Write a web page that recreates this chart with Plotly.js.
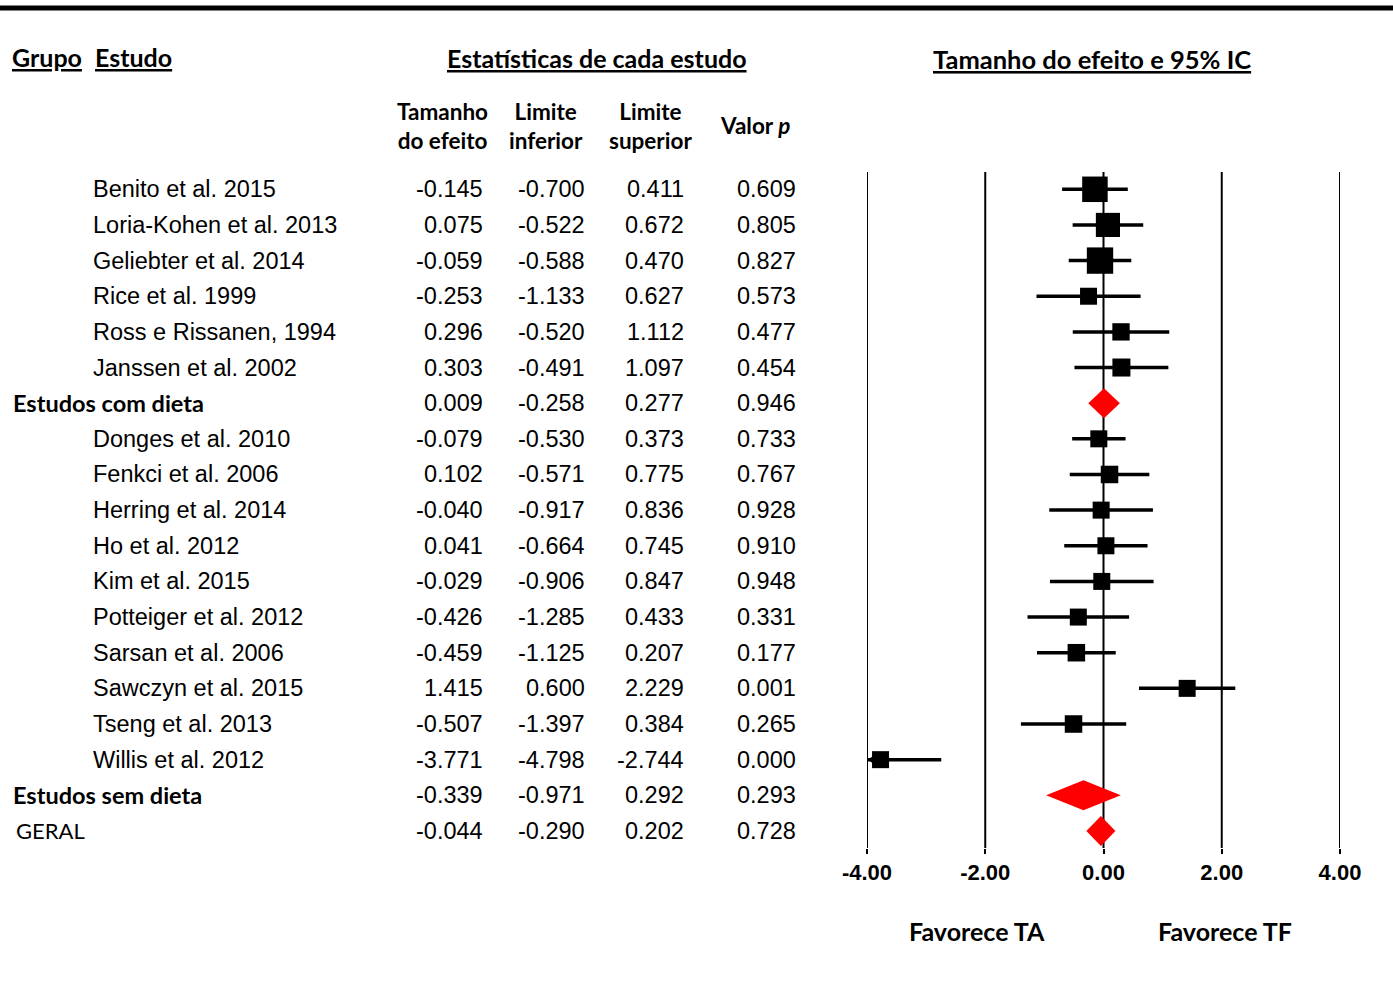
<!DOCTYPE html>
<html><head><meta charset="utf-8">
<script src="https://cdn.plot.ly/plotly-3.0.1.min.js"></script>
<style>html,body{margin:0;padding:0;background:#fff}</style>
</head><body>
<div id="chart" style="width:1393px;height:993px"></div>
<script>
// ---------------- DATA ----------------
const rowLabels = [
  "Benito et al. 2015", "Loria-Kohen et al. 2013", "Geliebter et al. 2014", "Rice et al. 1999",
  "Ross e Rissanen, 1994", "Janssen et al. 2002", "Estudos com dieta",
  "Donges et al. 2010", "Fenkci et al. 2006", "Herring et al. 2014", "Ho et al. 2012",
  "Kim et al. 2015", "Potteiger et al. 2012", "Sarsan et al. 2006", "Sawczyn et al. 2015",
  "Tseng et al. 2013", "Willis et al. 2012", "Estudos sem dieta", "GERAL"
];
const rowType = [
  "study","study","study","study","study","study","subtotal",
  "study","study","study","study","study","study","study","study","study","study",
  "subtotal","overall"
];
const effectSize = [-0.145, 0.075, -0.059, -0.253, 0.296, 0.303, 0.009,
  -0.079, 0.102, -0.040, 0.041, -0.029, -0.426, -0.459, 1.415, -0.507, -3.771, -0.339, -0.044];
const lowerLimit = [-0.700, -0.522, -0.588, -1.133, -0.520, -0.491, -0.258,
  -0.530, -0.571, -0.917, -0.664, -0.906, -1.285, -1.125, 0.600, -1.397, -4.798, -0.971, -0.290];
const upperLimit = [0.411, 0.672, 0.470, 0.627, 1.112, 1.097, 0.277,
  0.373, 0.775, 0.836, 0.745, 0.847, 0.433, 0.207, 2.229, 0.384, -2.744, 0.292, 0.202];
const pValue = [0.609, 0.805, 0.827, 0.573, 0.477, 0.454, 0.946,
  0.733, 0.767, 0.928, 0.910, 0.948, 0.331, 0.177, 0.001, 0.265, 0.000, 0.293, 0.728];
// relative study weight (box size)
const relWeight = [1.5, 1.42, 1.55, 1.0, 1.02, 1.06, null,
  1.0, 1.03, 1.0, 1.0, 1.0, 1.0, 1.03, 1.0, 1.03, 1.0, null, null];
const tickValues = [-4, -2, 0, 2, 4];
const columnHeaders = ["Tamanho<br>do efeito", "Limite<br>inferior", "Limite<br>superior", "Valor <i>p</i>"];

// ---------------- LAYOUT HELPERS ----------------
const W = 1393, H = 993;
const plotL = 867, plotR = 1340, plotT = 171.7, plotB = 848.3;
const px = v => (v - plotL) / (plotR - plotL);
const py = v => (plotB - v) / (plotB - plotT);
const xMin = -4, xMax = 4;
const rowY = i => -i;

const bodyFont = {family: "Liberation Sans, Arial, sans-serif", size: 23.5, color: "#000"};
const headFont = {family: "Lato, Open Sans, sans-serif", size: 25, color: "#000"};

// ---------------- TRACES ----------------
const sIdx = rowType.map((t, i) => t === "study" ? i : -1).filter(i => i >= 0);
const studyTrace = {
  type: "scatter", mode: "markers", cliponaxis: true, hoverinfo: "skip",
  x: sIdx.map(i => effectSize[i]),
  y: sIdx.map(i => rowY(i)),
  marker: {symbol: "square", color: "#000", opacity: 1, size: sIdx.map(i => 17 * relWeight[i]), line: {width: 0}},
  error_x: {
    type: "data", symmetric: false,
    array: sIdx.map(i => upperLimit[i] - effectSize[i]),
    arrayminus: sIdx.map(i => effectSize[i] - lowerLimit[i]),
    thickness: 3.5, width: 0, color: "#000"
  },
  showlegend: false
};
const clipIdx = sIdx.filter(i => lowerLimit[i] < xMin);
const arrowTrace = {
  type: "scatter", mode: "markers", hoverinfo: "skip", cliponaxis: false,
  x: clipIdx.map(() => xMin + 0.12),
  y: clipIdx.map(i => rowY(i)),
  marker: {symbol: "triangle-left", color: "#000", opacity: 1, size: 12},
  showlegend: false
};
const diamondTraces = rowType.map((t, i) => {
  if (t === "study") return null;
  const h = 0.42, y = rowY(i);
  return {
    type: "scatter", mode: "lines", fill: "toself", fillcolor: "#ff0000",
    line: {width: 0, color: "#ff0000"}, hoverinfo: "skip", showlegend: false,
    x: [lowerLimit[i], effectSize[i], upperLimit[i], effectSize[i], lowerLimit[i]],
    y: [y, y + h, y, y - h, y]
  };
}).filter(Boolean);

// ---------------- ANNOTATIONS ----------------
const ann = [];
const colRight = [482, 584, 683, 795];
rowLabels.forEach((lab, i) => {
  const t = rowType[i];
  let a = {xref: "paper", yref: "y", y: rowY(i), yanchor: "middle", xanchor: "left", showarrow: false, text: lab, xshift: -2};
  if (t === "study") { a.x = px(93); a.font = bodyFont; }
  else if (t === "subtotal") { a.x = px(13); a.text = "<b>" + lab + "</b>"; a.font = {...headFont, size: 23.5}; }
  else { a.x = px(16); a.font = {...headFont, size: 22}; }
  ann.push(a);
  const vals = [effectSize[i], lowerLimit[i], upperLimit[i], pValue[i]];
  vals.forEach((v, c) => ann.push({
    xref: "paper", yref: "y", x: px(colRight[c]), y: rowY(i), xanchor: "right", yanchor: "middle",
    xshift: 3, showarrow: false, text: v.toFixed(3), font: bodyFont
  }));
});
const hdr = (text, x, y, anchor, size) => ann.push({
  xref: "paper", yref: "paper", x: px(x), y: py(y), xanchor: anchor, yanchor: "middle",
  xshift: anchor === "left" ? -2 : 0,
  showarrow: false, text: "<b>" + text + "</b>", font: {...headFont, size: size}, align: "center"
});
hdr("<u>Grupo</u>", 12, 57, "left", 25);
hdr("<u>Estudo</u>", 95, 57, "left", 25);
hdr("<u>Estatísticas de cada estudo</u>", 597, 58, "center", 25);
hdr("<u>Tamanho do efeito e 95% IC</u>", 1092, 59, "center", 25.5);
const colCenter = [442, 546, 650, 755];
columnHeaders.forEach((h, c) => hdr(h, colCenter[c], 125.5, "center", 22.5));
hdr("Favorece TA", 977, 931, "center", 25);
hdr("Favorece TF", 1225, 931, "center", 25);

// ---------------- LAYOUT ----------------
const vLines = tickValues.map(v => ({
  type: "line", xref: "x", yref: "paper", x0: v, x1: v, y0: 0, y1: 1,
  line: {color: "#000", width: 2}, layer: "below"
}));
const layout = {
  width: W, height: H,
  margin: {l: plotL, r: W - plotR, t: plotT, b: H - plotB, pad: 0},
  paper_bgcolor: "#fff", plot_bgcolor: "#fff",
  showlegend: false,
  xaxis: {
    range: [xMin, xMax], tickmode: "array", tickvals: tickValues,
    ticktext: tickValues.map(v => "<b>" + v.toFixed(2) + "</b>"),
    showgrid: false, zeroline: false,
    showline: false, ticks: "outside", ticklen: 5, tickwidth: 2, tickcolor: "#000",
    tickfont: {family: "Liberation Sans, Arial, sans-serif", size: 22, color: "#000"},
    fixedrange: true
  },
  yaxis: {range: [-18.478, 0.485], visible: false, fixedrange: true},
  shapes: [...vLines, {
    type: "line", xref: "paper", yref: "paper",
    x0: px(0), x1: px(W), y0: py(7.5), y1: py(7.5),
    line: {color: "#000", width: 5}
  }],
  annotations: ann
};

Plotly.newPlot("chart", [...diamondTraces, studyTrace, arrowTrace], layout, {staticPlot: true, displayModeBar: false});
</script>
</body></html>
